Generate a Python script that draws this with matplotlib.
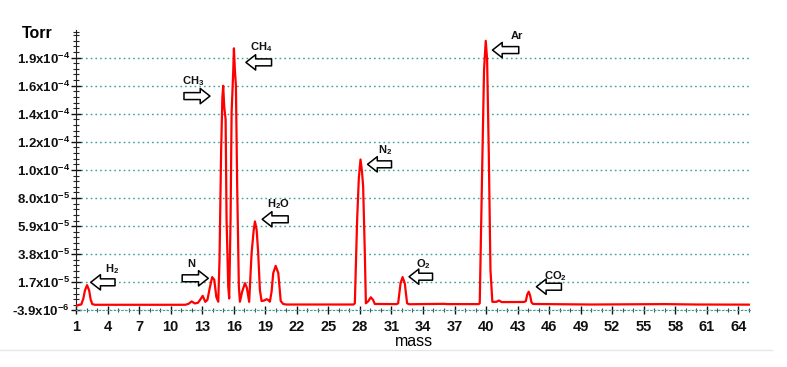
import numpy as np
import matplotlib
matplotlib.use("Agg")
import matplotlib.pyplot as plt
from matplotlib.ticker import FixedLocator, MultipleLocator

plt.rcParams['font.family'] = ['Liberation Sans', 'DejaVu Sans']
plt.rcParams['mathtext.fontset'] = 'custom'
plt.rcParams['mathtext.rm'] = 'Liberation Sans:bold'
plt.rcParams['mathtext.bf'] = 'Liberation Sans:bold'
plt.rcParams['mathtext.it'] = 'Liberation Sans:bold'
plt.rcParams['mathtext.default'] = 'rm'

# spectrum (mass, pressure in 1e-6 Torr)
mass = [1.0, 1.3, 1.5, 1.7, 1.85, 2.05, 2.25, 2.4, 2.55, 2.8, 11.4, 11.7, 12.0, 12.3,
        12.6, 12.85, 13.05, 13.3, 13.5, 13.7, 13.95, 14.15, 14.35, 14.53, 14.65, 14.8,
        14.92, 15.0, 15.1, 15.23, 15.32, 15.48, 15.57, 15.7, 15.8, 15.95, 16.02, 16.11,
        16.21, 16.33, 16.49, 16.59, 16.8, 17.07, 17.25, 17.47, 17.7, 17.9, 18.02, 18.18,
        18.33, 18.49, 18.65, 18.9, 19.13, 19.3, 19.44, 19.6, 19.76, 19.99, 20.24, 20.47,
        20.71, 21.0, 27.4, 27.52, 27.74, 27.9, 28.06, 28.2, 28.31, 28.47, 28.57, 28.8,
        29.04, 29.25, 29.42, 31.5, 31.64, 31.87, 32.06, 32.27, 32.49, 32.7, 36.0, 36.3,
        39.3, 39.4, 39.66, 39.81, 39.97, 40.1, 40.26, 40.42, 40.6, 41.0, 41.21, 41.5,
        43.6, 43.78, 43.92, 44.06, 44.2, 44.32, 44.47, 50.0, 57.0, 60.0, 65.0]
torr_e6 = [-0.5, 0.3, 0.5, 5, 11, 15, 11, 4, 0.8, 0.3, 0.3, 1.0, 2.8, 1.3,
           1.8, 4.5, 7.0, 2.5, 4, 12, 21, 19, 6, 2.6, 34, 114,
           155, 164, 148, 139, 64, 14, 5, 64, 144, 174, 192, 176,
           164, 89, 14, 2.6, 10, 16.5, 13, 2.5, 38.9, 56, 62.6, 56.4,
           38.9, 11.4, 3.1, 3.5, 4.5, 3.8, 2.6, 10, 24, 29.4, 24, 3.1,
           0.9, 0.5, 0.5, 1.4, 64, 95, 108.9, 100, 88.8, 38.9, 1.4, 3,
           5.9, 4, 0.9, 0.8, 1.4, 16.4, 21, 16.4, 1.4, 0.7, 1.0, 0.8,
           0.8, 1.4, 114, 176, 197.6, 184, 114, 26.3, 2.5, 2.5, 3.5, 2.3,
           2.4, 3, 8, 10.1, 7, 2.1, 0.9, 0.5, 0.8, 0.5, 0.4]

ytick_vals = [-3.9e-6, 1.71e-5, 3.81e-5, 5.91e-5, 8.01e-5, 1.011e-4, 1.221e-4,
              1.431e-4, 1.641e-4, 1.851e-4]
ytick_labels = ['-3.9x10$^{-6}$', '1.7x10$^{-5}$', '3.8x10$^{-5}$', '5.9x10$^{-5}$',
                '8.0x10$^{-5}$', '1.0x10$^{-4}$', '1.2x10$^{-4}$', '1.4x10$^{-4}$',
                '1.6x10$^{-4}$', '1.9x10$^{-4}$']
xtick_vals = list(range(1, 65, 3))

# label, text position, arrow tail, arrow tip
species = ['H$_2$', 'N', 'CH$_3$', 'CH$_4$', 'H$_2$O', 'N$_2$', 'O$_2$', 'Ar', 'CO$_2$']
label_xy = [(4.39, 2.70e-5), (12.0, 3.08e-5), (12.15, 1.678e-4), (18.65, 1.932e-4),
            (20.23, 7.56e-5), (30.37, 1.160e-4), (34.08, 3.08e-5), (42.89, 2.012e-4),
            (46.63, 2.18e-5)]
arrow_tail = [(4.71, 1.71e-5), (11.10, 2.01e-5), (11.27, 1.563e-4), (19.60, 1.815e-4),
              (21.18, 6.42e-5), (31.01, 1.053e-4), (34.91, 2.13e-5), (43.11, 1.907e-4),
              (47.17, 1.38e-5)]
arrow_tip = [(2.40, 1.71e-5), (13.58, 2.01e-5), (13.74, 1.563e-4), (17.16, 1.815e-4),
             (18.71, 6.42e-5), (28.73, 1.053e-4), (32.68, 2.13e-5), (40.61, 1.907e-4),
             (44.79, 1.38e-5)]

fig = plt.figure(figsize=(7.87, 3.67), dpi=100)
ax = fig.add_axes([76 / 787, 1 - 310.4 / 367, (751 - 76) / 787, (310.4 - 30) / 367])

ax.plot(mass, np.array(torr_e6) * 1e-6, color='#ff0000', lw=1.6, zorder=3)

ax.set_xlim(1, 65.2)
ax.set_ylim(-3.9e-6, 2.057e-4)

teal = '#3d9e9b'
ax.yaxis.set_major_locator(FixedLocator(ytick_vals))
ax.set_yticklabels(ytick_labels)
ax.yaxis.set_minor_locator(FixedLocator(
    [v + k * 2.1e-5 / 5 for v in ytick_vals for k in range(1, 5)] + [2.041e-4]))
ax.xaxis.set_major_locator(FixedLocator(xtick_vals))
ax.xaxis.set_minor_locator(MultipleLocator(1))

ax.grid(axis='y', which='major', color=teal, linestyle=(0, (1.2, 2.2)), lw=1.0)
for side in ['top', 'right']:
    ax.spines[side].set_visible(False)
ax.spines['bottom'].set_color(teal)
ax.spines['bottom'].set_linestyle((0, (1.2, 2.2)))
ax.spines['left'].set_color('#222222')

ax.tick_params(axis='y', which='major', direction='inout', length=7, width=1,
               labelsize=9.5, pad=1, colors='#111111')
ax.tick_params(axis='y', which='minor', direction='inout', length=4, width=0.8,
               colors='#222222')
ax.tick_params(axis='x', which='major', direction='inout', length=6, width=1,
               labelsize=10.5, pad=4, colors='#111111')
ax.tick_params(axis='x', which='minor', direction='inout', length=3, width=0.8,
               colors='#444444')
for t in ax.get_xticklabels() + ax.get_yticklabels():
    t.set_fontweight('bold')

for name, txy, tail, tip in zip(species, label_xy, arrow_tail, arrow_tip):
    ax.text(txy[0], txy[1], name, fontsize=8, fontweight='bold', ha='center',
            va='center', color='#111111')
    ax.annotate('', xy=tip, xytext=tail,
                arrowprops=dict(arrowstyle='simple,head_length=0.7,head_width=1.1,tail_width=0.5',
                                fc='white', ec='black', lw=1.1, shrinkA=0, shrinkB=0,
                                mutation_scale=10))

fig.text(22 / 787, 1 - 33 / 367, 'Torr', fontsize=11.5, fontweight='bold', va='center',
         ha='left')
fig.text(414 / 787, 1 - 341 / 367, 'mass', fontsize=11.5, va='center', ha='center')
fig.add_artist(plt.Line2D([0, 772 / 787], [1 - 350 / 367, 1 - 350 / 367],
                          color='#e6e6e6', lw=1, transform=fig.transFigure))

fig.savefig('out.png', dpi=100)
